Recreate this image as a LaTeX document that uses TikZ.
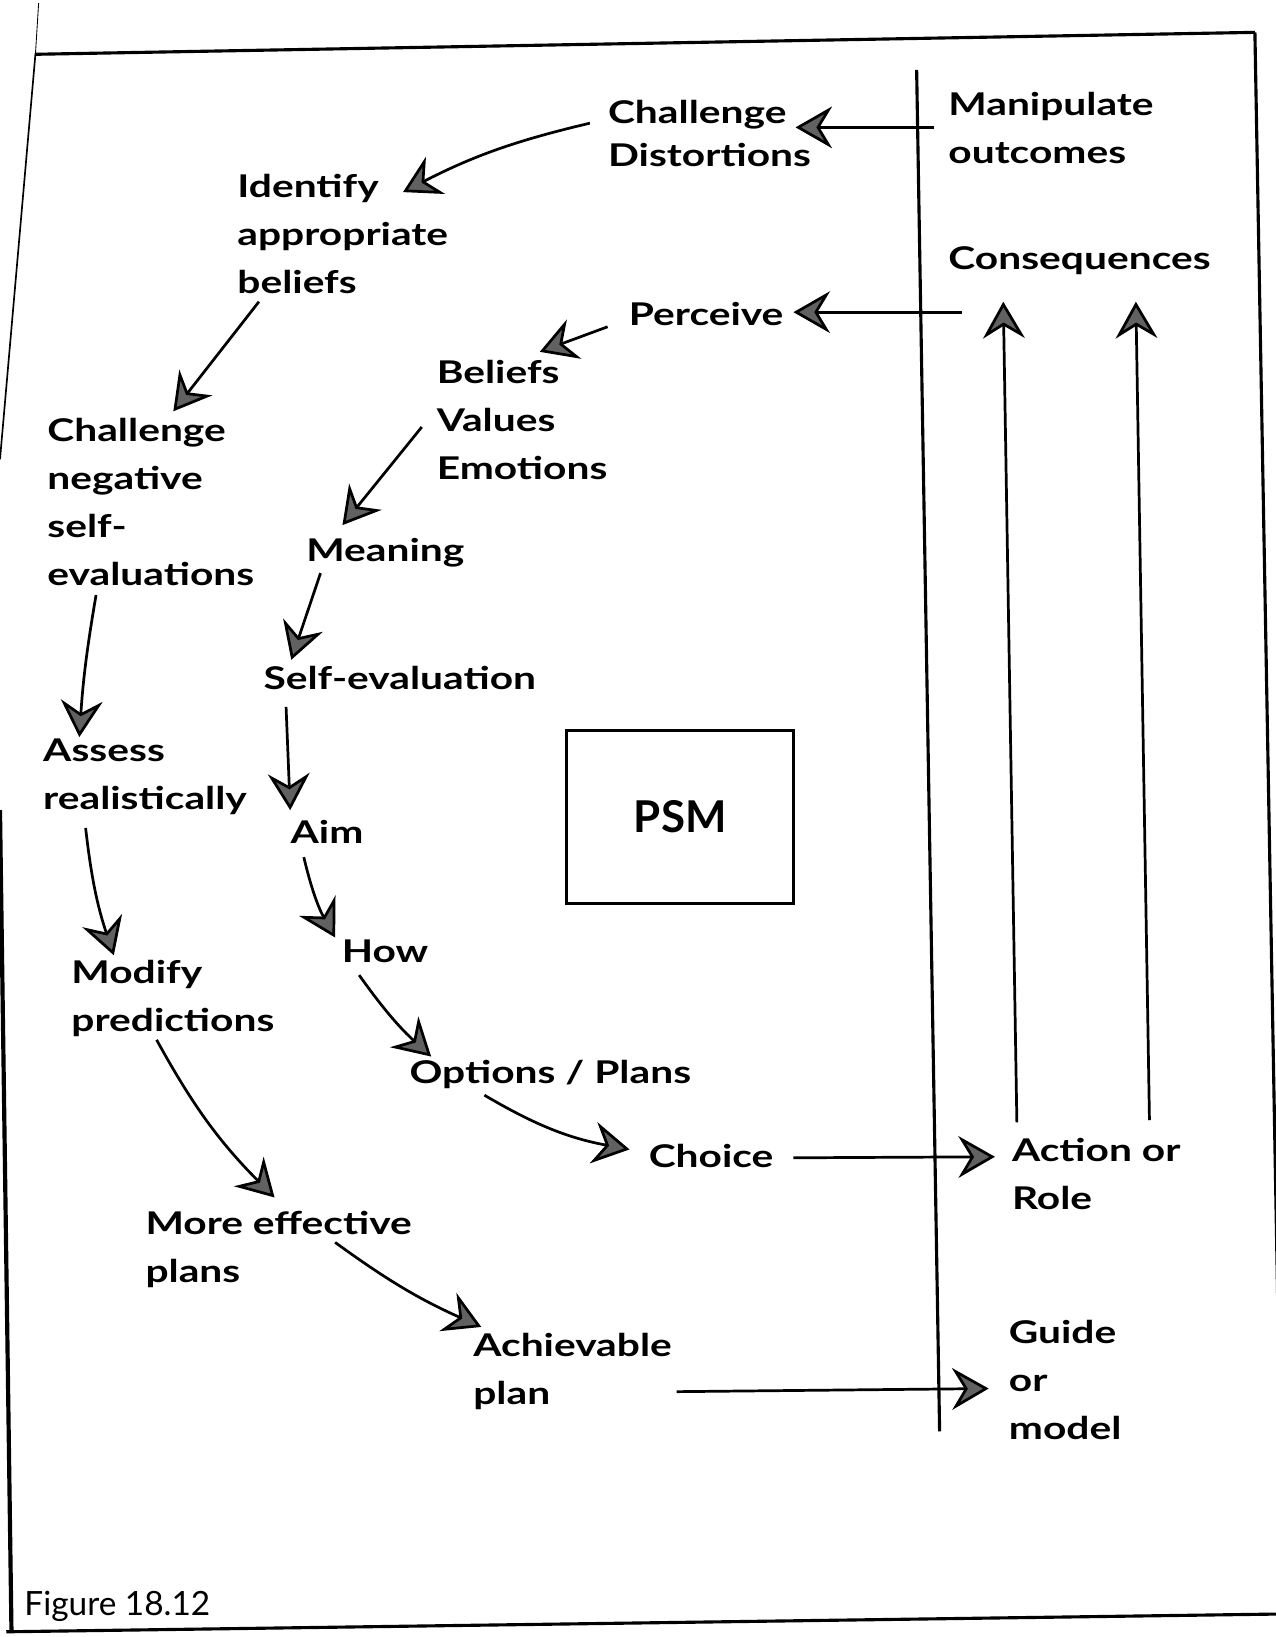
\documentclass[tikz,border=0pt]{standalone}
\usepackage{fontspec}
\usetikzlibrary{arrows.meta}
\newfontfamily\lblfont{Lato}[FakeStretch=1.3]
\newfontfamily\figfont{Lato}
\begin{document}
\begin{tikzpicture}[x=0.5pt,y=-0.5pt,
  lbl/.style={anchor=north west, inner sep=0pt, align=left,
    font=\lblfont\bfseries\fontsize{15}{23}\selectfont},
  arr/.style={line width=1.3pt,
    -{Stealth[length=17.5pt,width=20pt,inset=6pt,fill=black!62]}},
  rule/.style={line width=1.5pt},
]
\useasboundingbox (0,0) rectangle (1222,1568);
\fill[white] (0,0) rectangle (1222,1568);
\clip (0,0) rectangle (1222,1568);

% page frame
\draw[line width=0.4pt] (37,3) -- (34,51);
\draw[line width=0.8pt] (34,51) -- (0,440);
\draw[rule] (34,52) -- (1202,31);
\draw[rule] (1202,31) -- (1224,1255);
\draw[line width=2pt] (0,776) -- (11,1563);
\draw[rule] (6,1563) -- (1224,1546);

% divider between the process and its outcomes
\draw[rule] (878,67) -- (900,1371);

% labels
\node[lbl] (cd)   at (582,96)   {Challenge\\[-2.5pt]Distortions};
\node[lbl] (mo)   at (908,88)   {Manipulate\\outcomes};
\node[lbl] (cons) at (908,236)  {Consequences};
\node[lbl] (idb)  at (227,166)  {Identify\\appropriate\\beliefs};
\node[lbl] (per)  at (602,289)  {Perceive};
\node[lbl] (bve)  at (418,345)  {Beliefs\\Values\\Emotions};
\node[lbl] (cns)  at (45,400)   {Challenge\\negative\\self-\\evaluations};
\node[lbl] (mea)  at (293,515)  {Meaning};
\node[lbl] (sev)  at (252,638)  {Self-evaluation};
\node[lbl] (asr)  at (41,707)   {Assess\\realistically};
\node[lbl] (aim)  at (278,785)  {Aim};
\node[lbl] (mod)  at (68,919)   {Modify\\predictions};
\node[lbl] (how)  at (327,900)  {How};
\node[lbl] (opt)  at (392,1015) {Options / Plans};
\node[lbl] (cho)  at (621,1096) {Choice};
\node[lbl] (act)  at (969,1090) {Action or\\Role};
\node[lbl] (mep)  at (139,1160) {More effective\\plans};
\node[lbl] (ach)  at (453,1277) {Achievable\\plan};
\node[lbl] (gui)  at (966,1264) {Guide\\or\\model};

\node[draw, line width=1.5pt, minimum width=108.5pt, minimum height=82.5pt,
  inner sep=0pt, font=\figfont\bfseries\fontsize{21}{24}\selectfont]
  (psm) at (651.5,782.5) {PSM};

\node[anchor=north west, inner sep=0pt,
  font=\figfont\fontsize{16}{19}\selectfont] (fig) at (23,1524) {Figure 18.12};

% connectors
\draw[arr] ([shift={(-13,34)}]mo.north west) -- ([shift={(180,26)}]cd.north west);
\draw[arr] ([shift={(-17,22)}]cd.north west) to[bend right=7] ([shift={(159,18)}]idb.north west);
\draw[arr] ([shift={(21,123)}]idb.north west) -- ([shift={(121,-6)}]cns.north west);
\draw[arr] ([shift={(13,63)}]cons.north west) -- ([shift={(158,10)}]per.north west);
\draw[arr] ([shift={(-20,24)}]per.north west) -- ([shift={(99,-8)}]bve.north west);
\draw[arr] ([shift={(-14,64)}]bve.north west) -- ([shift={(35,-12)}]mea.north west);
\draw[arr] ([shift={(14,34)}]mea.north west) -- ([shift={(27,-6)}]sev.north west);
\draw[arr] ([shift={(22,39)}]sev.north west) -- ([shift={(0,-9)}]aim.north west);
\draw[arr] ([shift={(47,170)}]cns.north west) to[bend right=3] ([shift={(35,-1)}]asr.north west);
\draw[arr] ([shift={(41,86)}]asr.north west) to[bend right=6] ([shift={(41,-4)}]mod.north west);
\draw[arr] ([shift={(13,36)}]aim.north west) to[bend right=8] ([shift={(-6,-2)}]how.north west);
\draw[arr] ([shift={(17,34)}]how.north west) to[bend right=6] ([shift={(21,-3)}]opt.north west);
\draw[arr] ([shift={(72,34)}]opt.north west) to[bend right=10] ([shift={(-18,5)}]cho.north west);
\draw[arr] ([shift={(139,13)}]cho.north west) -- ([shift={(-16,18)}]act.north west);
\draw[arr] ([shift={(82,77)}]mod.north west) to[bend right=8] ([shift={(124,-13)}]mep.north west);
\draw[arr] ([shift={(182,30)}]mep.north west) to[bend right=6] ([shift={(8,-6)}]ach.north west);
\draw[arr] ([shift={(195,56)}]ach.north west) -- ([shift={(-19,66)}]gui.north west);
\draw[arr] ([shift={(5,-15)}]act.north west) -- ([shift={(53,53)}]cons.north west);
\draw[arr] ([shift={(132,-17)}]act.north west) -- ([shift={(180,53)}]cons.north west);
\end{tikzpicture}
\end{document}
